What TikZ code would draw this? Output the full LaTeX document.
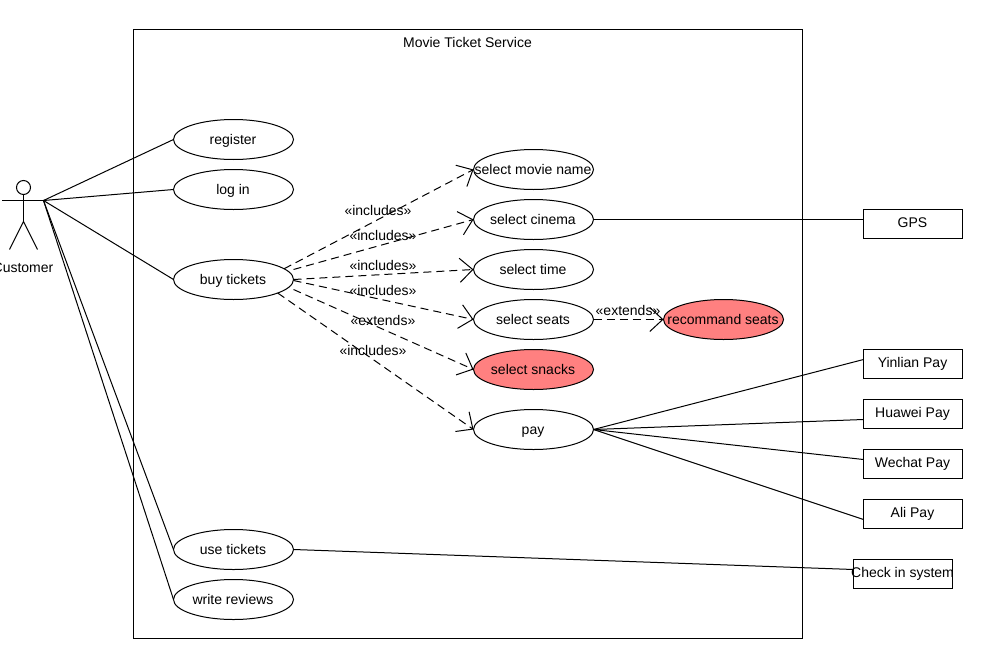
\documentclass[tikz,border=0pt]{standalone}
\usepackage{fontspec}
\setmainfont{Liberation Sans}
\usetikzlibrary{arrows.meta,shapes.geometric}

\newcommand{\ucname}[1]{\makebox[0pt]{\hspace{-1pt}#1}}

\definecolor{hotpink}{RGB}{255,128,128}
\tikzset{
  caption/.style={inner sep=0pt, text height=14pt, text depth=3.4pt},
  usecase/.style={caption, draw, ellipse, line width=1pt, outer sep=0pt, minimum width=120, minimum height=40},
  hotcase/.style={usecase, fill=hotpink},
  sysbox/.style={draw, rectangle, line width=1pt, inner sep=0pt, outer sep=0pt, text height=10pt, text depth=3pt, minimum width=99, minimum height=29},
  assoc/.style={line width=1pt},
  dep/.style={line width=1pt, dash pattern=on 8pt off 5pt, -{Straight Barb[length=13pt, width=24pt, line width=1pt]}}
}

\begin{document}
\begin{tikzpicture}[x=1pt, y=-1pt, line cap=butt, font=\fontsize{14}{16}\selectfont]

  \useasboundingbox (-0.5,-0.5) rectangle (1007.5,668.5);

  % System frame and its title
  \node[draw, line width=1pt, rectangle, inner sep=0pt, outer sep=0pt, minimum width=669, minimum height=609] (frame) at (467.5,333.5) {};
  \node[caption] (title) at (467.5,42) {\ucname{Movie Ticket Service}};

  % Actor, drawn directly
  \draw[line width=1pt] (23,187) circle (7);
  \draw[line width=1pt] (23,194) -- (23,221);
  \draw[line width=1pt] (2,200) -- (43,200);
  \draw[line width=1pt] (9,249) -- (23,221) -- (37,249);
  \coordinate (hand) at (43,200);
  \node[caption] (customer) at (23,267) {\ucname{Customer}};

  % Use cases on the left
  \node[usecase] (register) at (233,139) {\ucname{register}};
  \node[usecase] (login) at (233,189) {\ucname{log in}};
  \node[usecase] (buy) at (233,279) {\ucname{buy tickets}};
  \node[usecase] (use) at (233,549) {\ucname{use tickets}};
  \node[usecase] (review) at (233,599) {\ucname{write reviews}};

  % Use cases in the middle
  \node[usecase] (movie) at (533,169) {\ucname{select movie name}};
  \node[usecase] (cinema) at (533,219) {\ucname{select cinema}};
  \node[usecase] (time) at (533,269) {\ucname{select time}};
  \node[usecase] (seats) at (533,319) {\ucname{select seats}};
  \node[hotcase] (snacks) at (533,369) {\ucname{select snacks}};
  \node[usecase] (pay) at (533,429) {\ucname{pay}};
  \node[hotcase] (recommand) at (723,319) {\ucname{recommand seats}};

  % Outside systems
  \node[sysbox] (gps) at (912.5,223.5) {\ucname{GPS}};
  \node[sysbox] (yinlian) at (912.5,363.5) {\ucname{Yinlian Pay}};
  \node[sysbox] (huawei) at (912.5,413.5) {\ucname{Huawei Pay}};
  \node[sysbox] (wechat) at (912.5,463.5) {\ucname{Wechat Pay}};
  \node[sysbox] (ali) at (912.5,513.5) {\ucname{Ali Pay}};
  \node[sysbox] (check) at (902.5,573.5) {\ucname{Check in system}};

  % Customer associations
  \draw[assoc] (hand) -- (register.west);
  \draw[assoc] (hand) -- (login.west);
  \draw[assoc] (hand) -- (buy.west);
  \draw[assoc] (hand) -- (use.west);
  \draw[assoc] (hand) -- (review.west);

  % Dependencies out of buy tickets
  \draw[dep] (buy.12) -- (movie.west);
  \draw[dep] ([yshift=10pt]buy.east) -- (cinema.west);
  \draw[dep] (buy.east) -- (time.west);
  \draw[dep] ([yshift=-1pt]buy.east) -- (seats.west);
  \draw[dep] ([yshift=-10pt]buy.east) -- (snacks.west);
  \draw[dep] (buy.-17) -- (pay.west);
  \draw[dep] (seats.east) -- (recommand.west);

  % Stereotype labels
  \node[caption] (incmovie) at (378,210) {\ucname{«includes»}};
  \node[caption] (inccinema) at (383,235) {\ucname{«includes»}};
  \node[caption] (inctime) at (383,265) {\ucname{«includes»}};
  \node[caption] (incseats) at (383,290) {\ucname{«includes»}};
  \node[caption] (extsnacks) at (383,320) {\ucname{«extends»}};
  \node[caption] (incpay) at (373,350) {\ucname{«includes»}};
  \node[caption] (extseats) at (628,310) {\ucname{«extends»}};

  % Links to outside systems
  \draw[assoc] (cinema.east) -- ([yshift=4.5pt]gps.west);
  \draw[assoc] (pay.east) -- ([yshift=4.5pt]yinlian.west);
  \draw[assoc] (pay.east) -- ([yshift=-5.5pt]huawei.west);
  \draw[assoc] (pay.east) -- ([yshift=4.5pt]wechat.west);
  \draw[assoc] (pay.east) -- ([yshift=-5.5pt]ali.west);
  \draw[assoc] (use.east) -- ([yshift=4.5pt]check.west);

\end{tikzpicture}
\end{document}
